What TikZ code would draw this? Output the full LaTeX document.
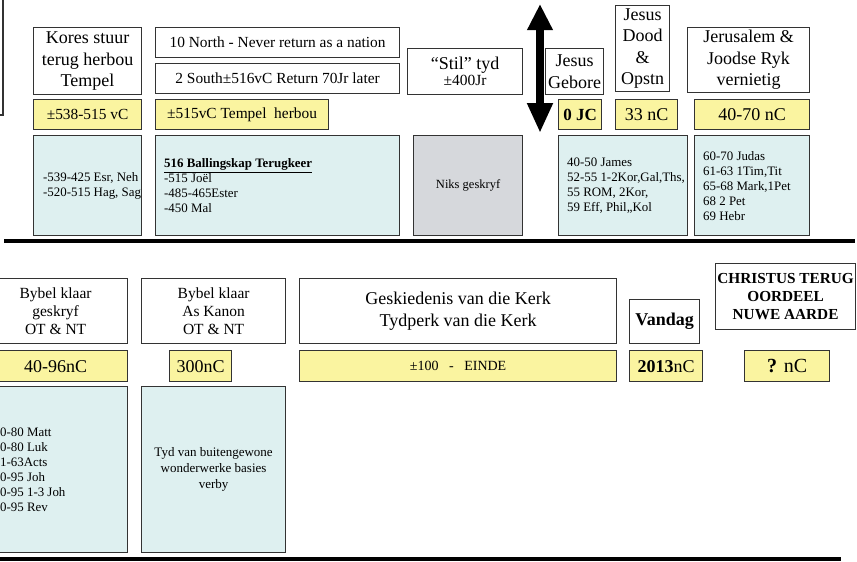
\documentclass[tikz,border=0pt]{standalone}
\usepackage{fontspec}
\setmainfont{Liberation Serif}
\usetikzlibrary{arrows.meta}
\definecolor{geel}{RGB}{250,244,160}
\definecolor{ligblou}{RGB}{222,240,240}
\definecolor{grys}{RGB}{214,216,220}
\tikzset{
  blok/.style={draw=black!80, line width=1.2pt, anchor=north west, align=center, inner sep=1pt},
  wit/.style={blok, fill=white},
  datum/.style={blok, fill=geel},
  boeke/.style={blok, fill=ligblou},
  lys/.style={anchor=west, align=left, inner sep=0pt, font=\fontsize{12.9}{15}\selectfont},
  groot/.style={font=\fontsize{18}{21.5}\selectfont},
  middel/.style={font=\fontsize{15.4}{18}\selectfont},
  skeiding/.style={line width=4pt},
}

\begin{document}
\begin{tikzpicture}[x=1pt, y=-1pt]
\useasboundingbox (0,0) rectangle (857,562);
\clip (0,0) rectangle (857,562);

% voor Christus
\draw[draw=black!80, line width=1.2pt] (-20,-20) rectangle (3,115);

\node[wit, groot, minimum width=108, minimum height=67] (kores) at (33,27) {Kores stuur\\terug herbou\\Tempel};
\node[datum, middel, minimum width=108, minimum height=30] (korestyd) at (33,99) {±538-515 vC};
\node[boeke, minimum width=108, minimum height=100] (koresboeke) at (33,135) {};
\node[lys, xshift=10] (koresboeke-t) at (koresboeke.west) {-539-425 Esr, Neh\\-520-515 Hag, Sag};

\node[wit, middel, minimum width=244, minimum height=30] (noord) at (155,27) {10 North - Never return as a nation};
\node[wit, middel, minimum width=244, minimum height=30] (suid) at (155,63) {2 South±516vC Return 70Jr later};
\node[datum, middel, minimum width=173, minimum height=30] (tempeltyd) at (155,99) {±515vC Tempel\ \ herbou};
\node[boeke, minimum width=244, minimum height=100] (ballingskap) at (155,135) {};
\node[lys, xshift=9] (ballingskap-t) at (ballingskap.west) {\textbf{\underline{516 Ballingskap Terugkeer}}\\-515 Joël\\-485-465Ester\\-450 Mal};

\node[wit, minimum width=115, minimum height=46] (stil) at (407,48) {{\fontsize{18}{20}\selectfont “Stil” tyd}\\[1pt]{\fontsize{15.5}{17}\selectfont ±400Jr}};
\node[blok, fill=grys, font=\fontsize{12.5}{14}\selectfont, minimum width=109, minimum height=100] (niks) at (413,135) {Niks geskryf};

% Christus
\coordinate (pyltop) at (540,4);
\coordinate (pylonder) at (540,133);
\draw[line width=8pt, {Triangle[length=26pt,width=24pt]}-{Triangle[length=30pt,width=24pt]}] (pyltop) -- (pylonder);

\node[wit, groot, minimum width=58, minimum height=46] (gebore) at (545,48) {Jesus\\Gebore};
\node[datum, font=\fontsize{17}{20}\selectfont\bfseries, minimum width=43, minimum height=30] (jc) at (558,99) {0 JC};
\node[wit, groot, minimum width=54, minimum height=86] (dood) at (615,5) {Jesus\\Dood\\\&\\Opstn};
\node[datum, groot, minimum width=62, minimum height=30] (dertig) at (615,99) {33 nC};
\node[wit, groot, minimum width=122, minimum height=65] (jerusalem) at (687,27) {Jerusalem \&\\Joodse Ryk\\vernietig};
\node[datum, groot, minimum width=115, minimum height=30] (veertig) at (694,99) {40-70 nC};
\node[boeke, minimum width=129, minimum height=100] (briewe) at (558,135) {};
\node[lys, xshift=9] (briewe-t) at (briewe.west) {40-50 James\\52-55 1-2Kor,Gal,Ths,\\55 ROM, 2Kor,\\59 Eff, Phil,,Kol};
\node[boeke, minimum width=115, minimum height=100] (hebr) at (694,135) {};
\node[lys, xshift=9] (hebr-t) at (hebr.west) {60-70 Judas\\61-63 1Tim,Tit\\65-68 Mark,1Pet\\68 2 Pet\\69 Hebr};

\draw[skeiding] (4,240.5) -- (855,240.5);

% na Christus
\node[wit, font=\fontsize{15.5}{18.3}\selectfont, minimum width=144, minimum height=65] (geskryf) at (-17,278) {Bybel klaar\\geskryf\\OT \& NT};
\node[datum, groot, minimum width=144, minimum height=31] (nt) at (-17,350) {40-96nC};
\node[boeke, minimum width=144, minimum height=166] (evangelies) at (-17,386) {};
\node[lys, xshift=17] (evangelies-t) at (evangelies.west) {0-80 Matt\\0-80 Luk\\1-63Acts\\0-95 Joh\\0-95 1-3 Joh\\0-95 Rev};

\node[wit, font=\fontsize{15.5}{18.3}\selectfont, minimum width=144, minimum height=65] (kanon) at (141,278) {Bybel klaar\\As Kanon\\OT \& NT};
\node[datum, groot, minimum width=62, minimum height=31] (driehonderd) at (169,350) {300nC};
\node[boeke, font=\fontsize{13}{16}\selectfont, minimum width=144, minimum height=166] (wonders) at (141,386) {Tyd van buitengewone\\wonderwerke basies\\verby};

\node[wit, groot, minimum width=317, minimum height=65] (kerk) at (299,278) {Geskiedenis van die Kerk\\Tydperk van die Kerk};
\node[datum, font=\fontsize{14}{16}\selectfont, minimum width=317, minimum height=31] (einde) at (299,350) {±100\ \ \ -\ \ \ EINDE};

\node[wit, font=\fontsize{18}{20}\selectfont\bfseries, minimum width=70, minimum height=44] (vandag) at (629,299) {Vandag};
\node[datum, groot, minimum width=73, minimum height=31] (jaar) at (629,350) {\textbf{2013}nC};
\node[wit, font=\fontsize{15.3}{18}\selectfont\bfseries, minimum width=140, minimum height=66] (christus) at (715,263) {CHRISTUS TERUG\\OORDEEL\\NUWE AARDE};
\node[datum, font=\fontsize{20}{24}\selectfont, minimum width=85, minimum height=31] (vraag) at (744,350) {\textbf{?} nC};

\draw[skeiding] (0,558.5) -- (841,558.5);
\end{tikzpicture}
\end{document}
